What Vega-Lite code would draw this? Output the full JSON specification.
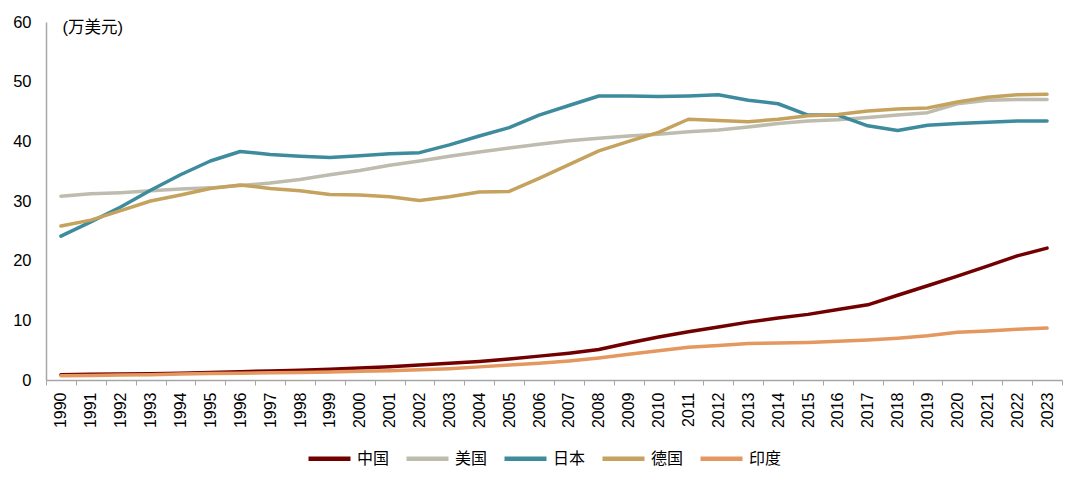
{
  "$schema": "https://vega.github.io/schema/vega-lite/v6.json",
  "width": 1016,
  "height": 358,
  "autosize": {"type": "none"},
  "padding": {"left": 46, "top": 22, "right": 18, "bottom": 101},
  "background": "#ffffff",
  "config": {
    "view": {"stroke": null},
    "font": "Liberation Sans, Noto Sans CJK SC",
    "axis": {
      "labelFont": "Liberation Sans, Noto Sans CJK SC",
      "labelColor": "#000000",
      "domainColor": "#a6a6a6",
      "tickColor": "#a6a6a6",
      "grid": false
    }
  },
  "datasets": {
    "gdp": [
      {"year": "1990", "country": "中国", "value": 0.9},
      {"year": "1991", "country": "中国", "value": 0.95},
      {"year": "1992", "country": "中国", "value": 1.0},
      {"year": "1993", "country": "中国", "value": 1.05},
      {"year": "1994", "country": "中国", "value": 1.15},
      {"year": "1995", "country": "中国", "value": 1.25},
      {"year": "1996", "country": "中国", "value": 1.4},
      {"year": "1997", "country": "中国", "value": 1.5},
      {"year": "1998", "country": "中国", "value": 1.65},
      {"year": "1999", "country": "中国", "value": 1.8},
      {"year": "2000", "country": "中国", "value": 2.0},
      {"year": "2001", "country": "中国", "value": 2.2},
      {"year": "2002", "country": "中国", "value": 2.5},
      {"year": "2003", "country": "中国", "value": 2.8},
      {"year": "2004", "country": "中国", "value": 3.1},
      {"year": "2005", "country": "中国", "value": 3.5},
      {"year": "2006", "country": "中国", "value": 4.0},
      {"year": "2007", "country": "中国", "value": 4.5},
      {"year": "2008", "country": "中国", "value": 5.1},
      {"year": "2009", "country": "中国", "value": 6.2},
      {"year": "2010", "country": "中国", "value": 7.2},
      {"year": "2011", "country": "中国", "value": 8.1},
      {"year": "2012", "country": "中国", "value": 8.9},
      {"year": "2013", "country": "中国", "value": 9.7},
      {"year": "2014", "country": "中国", "value": 10.4},
      {"year": "2015", "country": "中国", "value": 11.0},
      {"year": "2016", "country": "中国", "value": 11.8},
      {"year": "2017", "country": "中国", "value": 12.6},
      {"year": "2018", "country": "中国", "value": 14.2},
      {"year": "2019", "country": "中国", "value": 15.8},
      {"year": "2020", "country": "中国", "value": 17.4},
      {"year": "2021", "country": "中国", "value": 19.1},
      {"year": "2022", "country": "中国", "value": 20.8},
      {"year": "2023", "country": "中国", "value": 22.1},
      {"year": "1990", "country": "美国", "value": 30.8},
      {"year": "1991", "country": "美国", "value": 31.2},
      {"year": "1992", "country": "美国", "value": 31.4},
      {"year": "1993", "country": "美国", "value": 31.7},
      {"year": "1994", "country": "美国", "value": 32.0},
      {"year": "1995", "country": "美国", "value": 32.2},
      {"year": "1996", "country": "美国", "value": 32.6},
      {"year": "1997", "country": "美国", "value": 33.0},
      {"year": "1998", "country": "美国", "value": 33.6},
      {"year": "1999", "country": "美国", "value": 34.4},
      {"year": "2000", "country": "美国", "value": 35.1},
      {"year": "2001", "country": "美国", "value": 36.0},
      {"year": "2002", "country": "美国", "value": 36.7},
      {"year": "2003", "country": "美国", "value": 37.5},
      {"year": "2004", "country": "美国", "value": 38.2},
      {"year": "2005", "country": "美国", "value": 38.9},
      {"year": "2006", "country": "美国", "value": 39.5},
      {"year": "2007", "country": "美国", "value": 40.1},
      {"year": "2008", "country": "美国", "value": 40.5},
      {"year": "2009", "country": "美国", "value": 40.9},
      {"year": "2010", "country": "美国", "value": 41.2},
      {"year": "2011", "country": "美国", "value": 41.6},
      {"year": "2012", "country": "美国", "value": 41.9},
      {"year": "2013", "country": "美国", "value": 42.4},
      {"year": "2014", "country": "美国", "value": 43.0},
      {"year": "2015", "country": "美国", "value": 43.4},
      {"year": "2016", "country": "美国", "value": 43.6},
      {"year": "2017", "country": "美国", "value": 44.0},
      {"year": "2018", "country": "美国", "value": 44.4},
      {"year": "2019", "country": "美国", "value": 44.8},
      {"year": "2020", "country": "美国", "value": 46.3},
      {"year": "2021", "country": "美国", "value": 46.9},
      {"year": "2022", "country": "美国", "value": 47.0},
      {"year": "2023", "country": "美国", "value": 47.0},
      {"year": "1990", "country": "日本", "value": 24.1},
      {"year": "1991", "country": "日本", "value": 26.5},
      {"year": "1992", "country": "日本", "value": 29.0},
      {"year": "1993", "country": "日本", "value": 31.8},
      {"year": "1994", "country": "日本", "value": 34.4},
      {"year": "1995", "country": "日本", "value": 36.7},
      {"year": "1996", "country": "日本", "value": 38.3},
      {"year": "1997", "country": "日本", "value": 37.8},
      {"year": "1998", "country": "日本", "value": 37.5},
      {"year": "1999", "country": "日本", "value": 37.3},
      {"year": "2000", "country": "日本", "value": 37.6},
      {"year": "2001", "country": "日本", "value": 37.9},
      {"year": "2002", "country": "日本", "value": 38.1},
      {"year": "2003", "country": "日本", "value": 39.4},
      {"year": "2004", "country": "日本", "value": 40.9},
      {"year": "2005", "country": "日本", "value": 42.3},
      {"year": "2006", "country": "日本", "value": 44.4},
      {"year": "2007", "country": "日本", "value": 46.0},
      {"year": "2008", "country": "日本", "value": 47.6},
      {"year": "2009", "country": "日本", "value": 47.6},
      {"year": "2010", "country": "日本", "value": 47.5},
      {"year": "2011", "country": "日本", "value": 47.6},
      {"year": "2012", "country": "日本", "value": 47.8},
      {"year": "2013", "country": "日本", "value": 46.9},
      {"year": "2014", "country": "日本", "value": 46.3},
      {"year": "2015", "country": "日本", "value": 44.4},
      {"year": "2016", "country": "日本", "value": 44.4},
      {"year": "2017", "country": "日本", "value": 42.6},
      {"year": "2018", "country": "日本", "value": 41.8},
      {"year": "2019", "country": "日本", "value": 42.7},
      {"year": "2020", "country": "日本", "value": 43.0},
      {"year": "2021", "country": "日本", "value": 43.2},
      {"year": "2022", "country": "日本", "value": 43.4},
      {"year": "2023", "country": "日本", "value": 43.4},
      {"year": "1990", "country": "德国", "value": 25.8},
      {"year": "1991", "country": "德国", "value": 26.8},
      {"year": "1992", "country": "德国", "value": 28.4},
      {"year": "1993", "country": "德国", "value": 30.0},
      {"year": "1994", "country": "德国", "value": 31.0},
      {"year": "1995", "country": "德国", "value": 32.1},
      {"year": "1996", "country": "德国", "value": 32.7},
      {"year": "1997", "country": "德国", "value": 32.1},
      {"year": "1998", "country": "德国", "value": 31.7},
      {"year": "1999", "country": "德国", "value": 31.1},
      {"year": "2000", "country": "德国", "value": 31.0},
      {"year": "2001", "country": "德国", "value": 30.7},
      {"year": "2002", "country": "德国", "value": 30.1},
      {"year": "2003", "country": "德国", "value": 30.7},
      {"year": "2004", "country": "德国", "value": 31.5},
      {"year": "2005", "country": "德国", "value": 31.6},
      {"year": "2006", "country": "德国", "value": 33.8},
      {"year": "2007", "country": "德国", "value": 36.1},
      {"year": "2008", "country": "德国", "value": 38.4},
      {"year": "2009", "country": "德国", "value": 40.0},
      {"year": "2010", "country": "德国", "value": 41.5},
      {"year": "2011", "country": "德国", "value": 43.7},
      {"year": "2012", "country": "德国", "value": 43.5},
      {"year": "2013", "country": "德国", "value": 43.3},
      {"year": "2014", "country": "德国", "value": 43.7},
      {"year": "2015", "country": "德国", "value": 44.3},
      {"year": "2016", "country": "德国", "value": 44.5},
      {"year": "2017", "country": "德国", "value": 45.1},
      {"year": "2018", "country": "德国", "value": 45.4},
      {"year": "2019", "country": "德国", "value": 45.6},
      {"year": "2020", "country": "德国", "value": 46.6},
      {"year": "2021", "country": "德国", "value": 47.4},
      {"year": "2022", "country": "德国", "value": 47.8},
      {"year": "2023", "country": "德国", "value": 47.9},
      {"year": "1990", "country": "印度", "value": 0.7},
      {"year": "1991", "country": "印度", "value": 0.75},
      {"year": "1992", "country": "印度", "value": 0.85},
      {"year": "1993", "country": "印度", "value": 0.9},
      {"year": "1994", "country": "印度", "value": 1.0},
      {"year": "1995", "country": "印度", "value": 1.1},
      {"year": "1996", "country": "印度", "value": 1.15},
      {"year": "1997", "country": "印度", "value": 1.2},
      {"year": "1998", "country": "印度", "value": 1.25},
      {"year": "1999", "country": "印度", "value": 1.35},
      {"year": "2000", "country": "印度", "value": 1.45},
      {"year": "2001", "country": "印度", "value": 1.55},
      {"year": "2002", "country": "印度", "value": 1.7},
      {"year": "2003", "country": "印度", "value": 1.9},
      {"year": "2004", "country": "印度", "value": 2.2},
      {"year": "2005", "country": "印度", "value": 2.5},
      {"year": "2006", "country": "印度", "value": 2.8},
      {"year": "2007", "country": "印度", "value": 3.2},
      {"year": "2008", "country": "印度", "value": 3.7},
      {"year": "2009", "country": "印度", "value": 4.3},
      {"year": "2010", "country": "印度", "value": 4.9},
      {"year": "2011", "country": "印度", "value": 5.5},
      {"year": "2012", "country": "印度", "value": 5.8},
      {"year": "2013", "country": "印度", "value": 6.1},
      {"year": "2014", "country": "印度", "value": 6.2},
      {"year": "2015", "country": "印度", "value": 6.3},
      {"year": "2016", "country": "印度", "value": 6.5},
      {"year": "2017", "country": "印度", "value": 6.7},
      {"year": "2018", "country": "印度", "value": 7.0},
      {"year": "2019", "country": "印度", "value": 7.4},
      {"year": "2020", "country": "印度", "value": 8.0},
      {"year": "2021", "country": "印度", "value": 8.2},
      {"year": "2022", "country": "印度", "value": 8.5},
      {"year": "2023", "country": "印度", "value": 8.7}
    ]
  },
  "data": {"name": "gdp"},
  "mark": {"type": "line", "strokeWidth": 3.5, "strokeCap": "round", "strokeJoin": "round"},
  "encoding": {
    "x": {
      "field": "year",
      "type": "ordinal",
      "bandPosition": 0.5,
      "scale": {"type": "band", "paddingInner": 0, "paddingOuter": 0},
      "axis": {
        "title": null,
        "labelAngle": -90,
        "labelAlign": "right",
        "labelBaseline": "middle",
        "labelFontSize": 16,
        "labelPadding": 7,
        "tickBand": "extent",
        "tickSize": 5,
        "domainWidth": 1.5
      }
    },
    "y": {
      "field": "value",
      "type": "quantitative",
      "scale": {"domain": [0, 60], "nice": false},
      "axis": {
        "values": [0, 10, 20, 30, 40, 50, 60],
        "ticks": false,
        "labelFontSize": 16.5,
        "labelPadding": 15,
        "domainWidth": 1.5,
        "title": "(万美元)",
        "titleAngle": 0,
        "titleAlign": "left",
        "titleBaseline": "top",
        "titleX": 16,
        "titleY": -3,
        "titleFontSize": 16.5,
        "titleFontWeight": "normal",
        "titleColor": "#000000"
      }
    },
    "color": {
      "field": "country",
      "type": "nominal",
      "scale": {
        "domain": ["中国", "美国", "日本", "德国", "印度"],
        "range": ["#720000", "#bebcae", "#3f8b9e", "#c5a35e", "#e4975e"]
      },
      "legend": {
        "title": null,
        "orient": "none",
        "direction": "horizontal",
        "legendX": 260,
        "legendY": 413,
        "symbolType": "stroke",
        "symbolSize": 1764,
        "symbolStrokeWidth": 4.5,
        "labelFontSize": 16,
        "labelColor": "#000000",
        "labelOffset": 4,
        "columnPadding": 7
      }
    }
  }
}
